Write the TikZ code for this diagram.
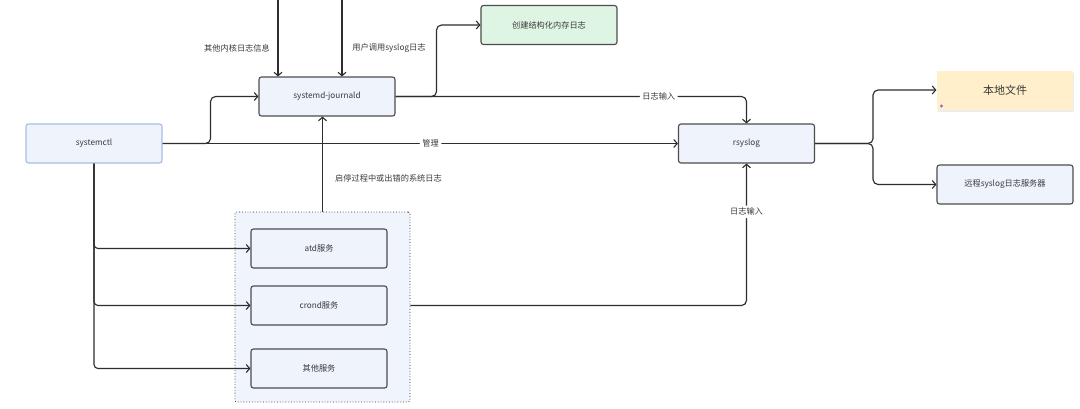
\documentclass[tikz,border=0pt]{standalone}
\usepackage{fontspec}
\newfontfamily\cjk{Noto Sans CJK SC}
\usetikzlibrary{arrows.meta,shadows}
\definecolor{boxfill}{HTML}{EEF3FC}
\definecolor{boxline}{HTML}{4D4D4D}
\definecolor{ctlline}{HTML}{A8BDE3}
\definecolor{greenfill}{HTML}{DFF5E4}
\definecolor{yellowfill}{HTML}{FFF0CB}
\definecolor{contfill}{HTML}{F0F4FC}
\definecolor{linec}{HTML}{2E2E2E}
\definecolor{textc}{HTML}{3A3A3A}
\definecolor{iconc}{HTML}{9B5DE5}
\begin{document}
\begin{tikzpicture}[x=1pt,y=-1pt,
  box/.style={draw=boxline, fill=boxfill, rounded corners=2.5pt, minimum width=136pt, minimum height=39pt, line width=1.1pt, font=\cjk\fontsize{8.2}{10}\selectfont, text=textc, inner sep=0pt},
  conn/.style={draw=linec, line width=1.15pt, rounded corners=5pt, -{Straight Barb[length=3.5pt,width=8pt,line width=1.1pt]}},
  lab/.style={fill=white, inner sep=2.5pt, font=\cjk\fontsize{8.2}{10}\selectfont, text=textc},
  freelab/.style={inner sep=0pt, font=\cjk\fontsize{8.2}{10}\selectfont, text=textc}
]
\useasboundingbox (0,0) rectangle (1080,408);
\fill[white] (0,0) rectangle (1080,408);

% container
\node[draw=linec, dotted, line width=0.8pt, fill=contfill, rounded corners=2pt, minimum width=175pt, minimum height=190pt, inner sep=0pt] (cont) at (322.5,307) {};

% nodes
\node[box, draw=ctlline] (ctl) at (94,143.5) {systemctl};
\node[box] (jd) at (327,96.5) {systemd-journald};
\node[box, fill=greenfill] (mem) at (549,25) {创建结构化内存日志};
\node[box] (rs) at (746.5,143.5) {rsyslog};
\node[box, draw=none, fill=yellowfill, rounded corners=0pt, drop shadow={shadow xshift=1pt, shadow yshift=-2pt, opacity=0.15}, font=\cjk\fontsize{11}{13}\selectfont] (loc) at (1005,90) {本地文件};
\fill[iconc] (941.5,106) circle (1.6pt);
\node[box] (rem) at (1005,184.5) {远程syslog日志服务器};
\node[box] (atd) at (319,248.5) {atd服务};
\node[box] (crond) at (319,305.5) {crond服务};
\node[box] (oth) at (319,368.5) {其他服务};

% free ends
\coordinate (t1) at (278,0);
\coordinate (t2) at (342,0);

% connectors
\draw[conn] (t1) -- (t1 |- jd.north);
\draw[conn] (t2) -- (t2 |- jd.north);
\node[freelab] at (237,48) {其他内核日志信息};
\node[freelab] at (389,48) {用户调用syslog日志};

\draw[conn] (ctl.east) -- ++(48,0) |- (jd.west);
\draw[conn] (ctl.east) -- node[lab, pos=0.52] {管理} (rs.west);

\draw[conn] (jd.east) -- ++(41,0) |- (mem.west);
\draw[conn] (jd.east) -| node[lab, pos=0.375] {日志输入} (rs.north);

\draw[conn] (cont.north) -- (cont.north |- jd.south);
\node[freelab, anchor=west] at (335,178) {启停过程中或出错的系统日志};

\draw[conn, rounded corners=4pt] (ctl.south) |- (atd.west);
\draw[conn, rounded corners=4pt] (ctl.south) |- (crond.west);
\draw[conn, rounded corners=4pt] (ctl.south) |- (oth.west);

\draw[conn] (cont.east |- crond) -| node[lab, pos=0.83] {日志输入} (rs.south);

\draw[conn] (rs.east) -- ++(58,0) |- (loc.west);
\draw[conn] (rs.east) -- ++(58,0) |- (rem.west);
\end{tikzpicture}
\end{document}
